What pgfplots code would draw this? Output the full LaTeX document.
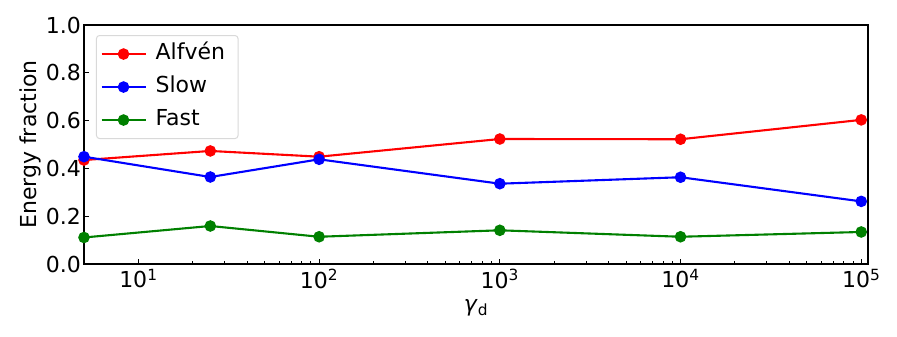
\documentclass[border=0pt]{standalone}
\usepackage{pgfplots}
\pgfplotsset{compat=1.18}
\usepackage{fontspec}
\setmainfont{DejaVu Sans}
\definecolor{mgreen}{rgb}{0,0.5,0}
\begin{document}
\fontsize{22bp}{26bp}\selectfont
\begin{tikzpicture}
\begin{axis}[name=ax, scale only axis, width=784bp, height=239bp,
  xmode=log, xmin=5, xmax=1.09e5, ymin=0, ymax=1,
  axis line style={line width=1.1bp},
  tick align=inside, xtick pos=bottom, ytick pos=left,
  major tick length=5bp, minor tick length=3bp,
  every tick/.style={black, line width=0.9bp},
  ytick={0,0.2,0.4,0.6,0.8,1.0},
  /pgf/number format/assume math mode=true,
  yticklabel style={/pgf/number format/fixed, /pgf/number format/fixed zerofill, /pgf/number format/precision=1, inner sep=3bp},
  xtick={10,100,1000,10000,100000},
  xticklabels={10\textsuperscript{1},10\textsuperscript{2},10\textsuperscript{3},10\textsuperscript{4},10\textsuperscript{5}},
  tick label style={font=\fontsize{22bp}{26bp}\selectfont},
  xticklabel style={inner sep=2bp, yshift=-3bp},
  label style={font=\fontsize{22bp}{26bp}\selectfont},
  xlabel={\textit{γ}\textsubscript{d}},
  xlabel style={yshift=-1bp},
  ylabel={Energy fraction},
  ylabel style={yshift=-6bp},
  legend cell align=left,
  legend style={at={(0.0153,0.958)}, anchor=north west, draw=black!15, line width=1bp,
    rounded corners=3bp, inner xsep=4bp, inner ysep=2bp,
    font=\fontsize{22bp}{26bp}\selectfont,
    nodes={text height=16.5bp, text depth=5.5bp, inner ysep=5.5bp, inner xsep=9bp}},
  legend image code/.code={\draw[#1, mark repeat=2, mark phase=2] plot coordinates {(0bp,0bp) (22bp,0bp) (44bp,0bp)};},
  every axis plot/.append style={line width=2.1bp, mark=*, mark size=4.7bp, mark options={solid}},
]
\addplot[red, mark options={fill=red}] coordinates {(5,0.435) (25,0.473) (100,0.449) (1000,0.523) (10000,0.522) (100000,0.603)};
\addlegendentry{Alfvén}
\addplot[blue, mark options={fill=blue}] coordinates {(5,0.449) (25,0.364) (100,0.438) (1000,0.336) (10000,0.363) (100000,0.262)};
\addlegendentry{Slow}
\addplot[mgreen, mark options={fill=mgreen}] coordinates {(5,0.111) (25,0.159) (100,0.114) (1000,0.141) (10000,0.114) (100000,0.134)};
\addlegendentry{Fast}
\end{axis}
\path[use as bounding box] ([shift={(-84bp,-72bp)}]ax.south west) rectangle ([shift={(29bp,25bp)}]ax.north east);
\end{tikzpicture}
\end{document}
